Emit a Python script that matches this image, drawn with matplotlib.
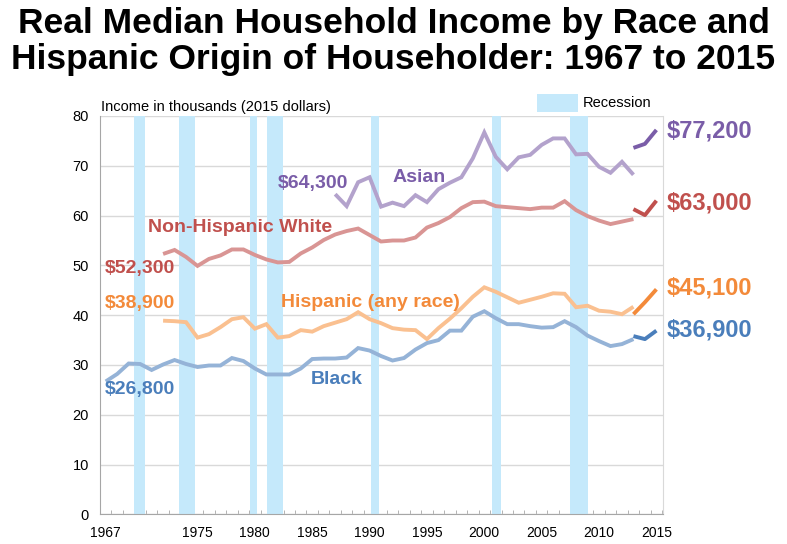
import matplotlib.pyplot as plt
from matplotlib.patches import Rectangle
import numpy as np

plt.rcParams['font.family'] = ['Liberation Sans', 'DejaVu Sans']

# Income in thousands (2015 dollars)
years = np.arange(1967, 2014)

black = [26.7, 28.2, 30.3, 30.2, 29.0, 30.1, 31.0, 30.2, 29.6, 29.9,
         29.9, 31.4, 30.8, 29.3, 28.1, 28.1, 28.1, 29.3, 31.2, 31.3,
         31.3, 31.5, 33.4, 32.9, 31.8, 30.9, 31.4, 33.1, 34.4, 35.0,
         36.9, 36.9, 39.7, 40.8, 39.4, 38.2, 38.2, 37.8, 37.5, 37.6,
         38.8, 37.6, 35.9, 34.8, 33.8, 34.2, 35.2]

hispanic = [None] * 5 + [
    38.9, 38.8, 38.6, 35.5, 36.2, 37.6, 39.2, 39.6, 37.3, 38.2,
    35.5, 35.8, 37.0, 36.7, 37.8, 38.5, 39.2, 40.6, 39.2, 38.4,
    37.4, 37.1, 37.0, 35.2, 37.4, 39.3, 41.4, 43.7, 45.6, 44.7,
    43.6, 42.5, 43.1, 43.7, 44.4, 44.3, 41.6, 41.9, 40.9, 40.7,
    40.2, 41.7]

white_nh = [None] * 5 + [
    52.3, 53.1, 51.7, 49.9, 51.3, 52.0, 53.2, 53.2, 52.1, 51.2,
    50.6, 50.7, 52.4, 53.6, 55.1, 56.2, 56.9, 57.4, 56.1, 54.8,
    55.0, 55.0, 55.6, 57.6, 58.5, 59.7, 61.5, 62.7, 62.8, 61.9,
    61.7, 61.5, 61.3, 61.6, 61.6, 62.9, 61.1, 59.9, 59.0, 58.3,
    58.8, 59.3]

asian = [None] * 20 + [
    64.3, 61.9, 66.7, 67.7, 61.8, 62.6, 61.9, 64.1, 62.7, 65.3,
    66.6, 67.7, 71.5, 76.7, 71.8, 69.3, 71.7, 72.2, 74.2, 75.5,
    75.5, 72.3, 72.4, 69.8, 68.6, 70.8, 68.2]

# redesigned survey, 2013-2015
new_years = [2013, 2014, 2015]
black_new = [35.8, 35.2, 36.9]
hispanic_new = [40.2, 42.6, 45.2]
white_new = [61.3, 60.1, 63.0]
asian_new = [73.6, 74.4, 77.2]

recessions = [(1969.5, 1970.45), (1973.4, 1974.8), (1979.6, 1980.15),
              (1981.05, 1982.45), (1990.1, 1990.8), (2000.7, 2001.45),
              (2007.5, 2009.0)]

x_ticks = [1967, 1975, 1980, 1985, 1990, 1995, 2000, 2005, 2010, 2015]

def to_arr(vals):
    return np.array([np.nan if v is None else v for v in vals], dtype=float)

fig = plt.figure(figsize=(7.87, 5.44), dpi=100)
ax = fig.add_axes([100 / 787, 1 - 514.4 / 544, 562.7 / 787, 398.4 / 544])

for x0, x1 in recessions:
    ax.axvspan(x0, x1, color='#C5E9FB', lw=0, zorder=1)

series = [
    (asian, asian_new, '#B3A2CC', '#7A5DA8'),
    (white_nh, white_new, '#D99594', '#C0504D'),
    (hispanic, hispanic_new, '#FAC090', '#F38A3A'),
    (black, black_new, '#95B3D7', '#4A7EBB'),
]
for old, new, c_old, c_new in series:
    ax.plot(years, to_arr(old), color=c_old, lw=2.8, zorder=3,
            solid_capstyle='butt', solid_joinstyle='miter')
    ax.plot(new_years, new, color=c_new, lw=2.8, zorder=3,
            solid_capstyle='butt')

ax.set_xlim(1966.55, 2015.55)
ax.set_ylim(0, 80)
ax.set_yticks(range(0, 81, 10))
ax.set_xticks(x_ticks)
ax.set_xticks(np.arange(1966.5, 2016, 1), minor=True)
ax.tick_params(axis='y', length=0, labelsize=10.5, pad=8)
ax.tick_params(axis='x', which='major', length=0, labelsize=10, pad=8)
ax.tick_params(axis='x', which='minor', direction='in', length=3,
               color='#A6A6A6')
ax.grid(axis='y', color='#D9D9D9', lw=1, zorder=0)
ax.set_axisbelow(True)
ax.spines['top'].set_visible(False)
ax.spines['right'].set_color('#D9D9D9')
ax.spines['left'].set_color('#A6A6A6')
ax.spines['bottom'].set_color('#A6A6A6')

lab = dict(fontsize=14, fontweight='bold', va='center')
ax.text(1966.95, 49.4, '$52,300', color='#C0504D', **lab)
ax.text(1966.95, 42.4, '$38,900', color='#F38A3A', **lab)
ax.text(1966.95, 25.0, '$26,800', color='#4A7EBB', **lab)
ax.text(1970.7, 57.7, 'Non-Hispanic White', color='#C0504D', **lab)
ax.text(1982.0, 66.5, '$64,300', color='#7A5DA8', **lab)
ax.text(1992.0, 67.7, 'Asian', color='#7A5DA8', **lab)
ax.text(1982.3, 42.6, 'Hispanic (any race)', color='#F38A3A', **lab)
ax.text(1984.85, 27.0, 'Black', color='#4A7EBB', **lab)

rlab = dict(fontsize=17, fontweight='bold', va='center', clip_on=False)
ax.text(2015.85, 76.9, '$77,200', color='#7A5DA8', **rlab)
ax.text(2015.85, 62.5, '$63,000', color='#C0504D', **rlab)
ax.text(2015.85, 45.4, '$45,100', color='#F38A3A', **rlab)
ax.text(2015.85, 37.0, '$36,900', color='#4A7EBB', **rlab)

ax.text(0.002, 1.023, 'Income in thousands (2015 dollars)', transform=ax.transAxes,
        fontsize=10.5, va='center', ha='left')
ax.add_patch(Rectangle((0.776, 1.011), 0.074, 0.044, transform=ax.transAxes,
                       color='#C5E9FB', lw=0, clip_on=False))
ax.text(0.858, 1.033, 'Recession', transform=ax.transAxes,
        fontsize=10.5, va='center', ha='left')

title_lines = ['Real Median Household Income by Race and',
               'Hispanic Origin of Householder: 1967 to 2015']
fig.text(0.5, 1 - 24 / 544, title_lines[0], ha='center', va='center',
         fontsize=25.5, fontweight='bold')
fig.text(0.5, 1 - 60 / 544, title_lines[1], ha='center', va='center',
         fontsize=25.5, fontweight='bold')

fig.savefig('out.png', dpi=100)
